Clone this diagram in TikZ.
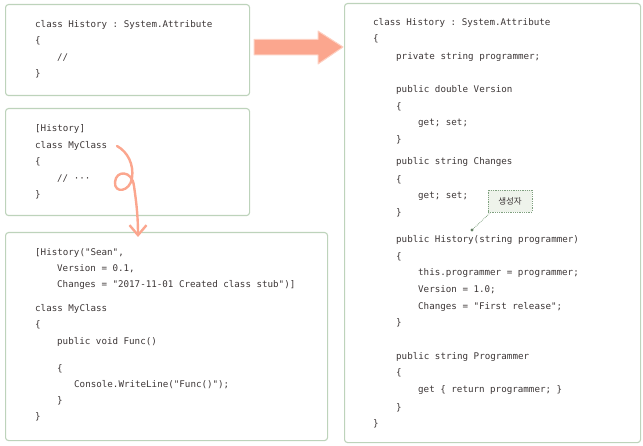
\documentclass[tikz,border=0pt]{standalone}
\usepackage{fontspec}
\setmonofont{DejaVu Sans Mono}
\newfontfamily\kofont{Noto Sans CJK KR}
\usetikzlibrary{arrows.meta,calc}

\definecolor{codetext}{HTML}{3C3636}
\definecolor{boxline}{HTML}{BDD3BB}
\definecolor{salmon}{HTML}{FBA68E}
\definecolor{salmonlight}{HTML}{FDD0C2}
\definecolor{notefill}{HTML}{EEF3EB}
\definecolor{noteline}{HTML}{7FA07F}

\begin{document}
\begin{tikzpicture}[x=1pt,y=-1pt,
    code box/.style={draw=boxline,line width=1.1pt,rounded corners=3pt,anchor=north west,inner sep=0pt},
    code line/.style={anchor=base west,inner sep=0pt,text=codetext,font=\ttfamily\fontsize{9.2}{11}\selectfont},
    note/.style={draw=noteline,densely dotted,fill=notefill,line width=0.8pt,minimum width=44pt,minimum height=22pt,inner sep=0pt,text=codetext,font=\kofont\fontsize{8.5}{10}\selectfont},
    curly/.style={draw=salmon,line width=2.4pt,line cap=round,-{Straight Barb[length=10pt,width=17pt,line width=2.4pt]}}]
    \useasboundingbox (0,0) rectangle (643,446);

    % the four code boxes
    \node[code box,minimum width=244pt,minimum height=91pt] (attr) at (5,4) {};
    \node[code box,minimum width=244pt,minimum height=107pt] (use) at (5,108) {};
    \node[code box,minimum width=322pt,minimum height=208pt] (named) at (5,232) {};
    \node[code box,minimum width=296pt,minimum height=439pt] (full) at (344,3) {};

    % lines of code
    \foreach \x/\y/\t [count=\i] in {
        35/28/{class History : System.Attribute},
        35/44/\{,
        57/61/{//},
        35/77/\}}
        \node[code line] (a\i) at (\x,\y) {\t};

    \foreach \x/\y/\t [count=\i] in {
        35/132/{[History]},
        35/149/{class MyClass},
        35/165/\{,
        57/182/{// ···},
        35/198/\}}
        \node[code line] (u\i) at (\x,\y) {\t};

    \foreach \x/\y/\t [count=\i] in {
        35/256/{[History("Sean",},
        57/272/{Version = 0.1,},
        57/288/{Changes = "2017-11-01 Created class stub")]},
        35/312/{class MyClass},
        35/328/\{,
        57/345/{public void Func()},
        57/372/\{,
        74/388/{Console.WriteLine("Func()");},
        57/404/\},
        35/420/\}}
        \node[code line] (n\i) at (\x,\y) {\t};

    \foreach \x/\y/\t [count=\i] in {
        373/26/{class History : System.Attribute},
        373/42/\{,
        396/60/{private string programmer;},
        396/93/{public double Version},
        396/110/\{,
        418/126/{get; set;},
        396/143/\},
        396/165/{public string Changes},
        396/183/\{,
        418/199/{get; set;},
        396/216/\},
        396/243/{public History(string programmer)},
        396/260/\{,
        418/276/{this.programmer = programmer;},
        418/293/{Version = 1.0;},
        418/310/{Changes = "First release";},
        396/326/\},
        396/360/{public string Programmer},
        396/376/\{,
        418/393/{get \{ return programmer; \}},
        396/410/\},
        373/426/\}}
        \node[code line] (f\i) at (\x,\y) {\t};

    % fat arrow between the attribute boxes
    \coordinate (tail) at (254,47);
    \coordinate (tip) at (343,47);
    \filldraw[fill=salmon,draw=salmonlight,line width=1pt,line join=round]
        ($(tail)+(0,-7.5)$) -- ($(tip)+(-25,-7.5)$) -- ($(tip)+(-25,-16)$) -- (tip)
        -- ($(tip)+(-25,17)$) -- ($(tip)+(-25,8)$) -- ($(tail)+(0,8)$) -- cycle;

    % curly arrow down to the named-argument box
    \coordinate (cstart) at (117,146);
    \coordinate (cend) at (138,237);
    \draw[curly] (cstart) .. controls (128,152) and (134,165) .. (132,178)
        .. controls (130,192) and (114,194) .. (115,182)
        .. controls (116,170) and (132,170) .. (134,186)
        .. controls (136,200) and (138,215) .. (cend);

    % constructor note
    \node[note] (ctor) at (510,201) {생성자};
    \coordinate (ctordot) at (472,230);
    \draw[noteline,densely dotted,line width=0.8pt] (ctor.south west) ++(3,0) -- (ctordot);
    \fill[noteline!80!black] (ctordot) circle (1.6pt);
\end{tikzpicture}
\end{document}
